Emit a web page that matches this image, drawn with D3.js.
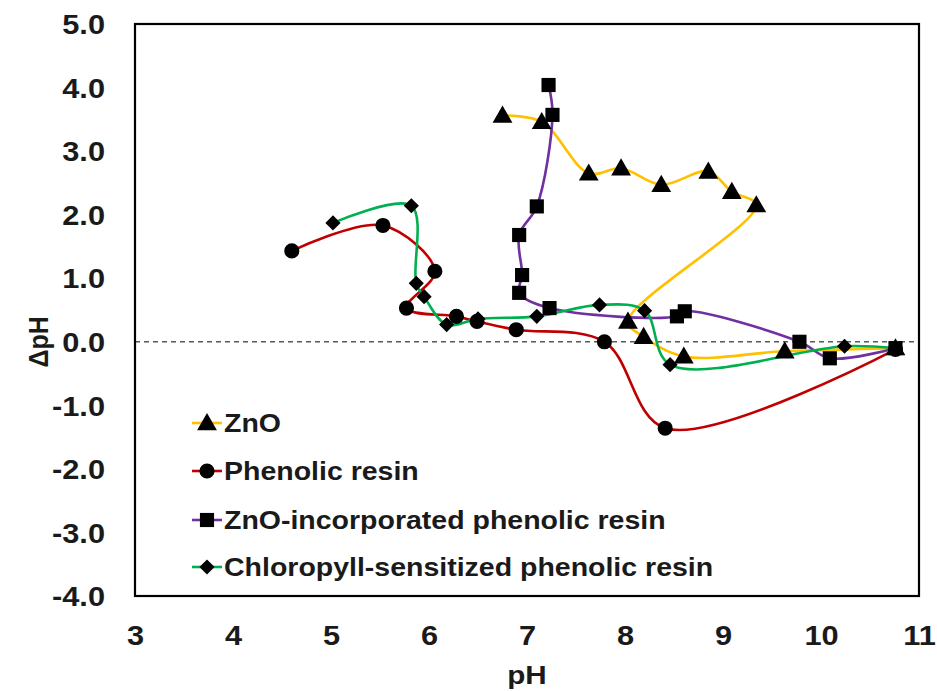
<!DOCTYPE html>
<html>
<head>
<meta charset="utf-8">
<script src="https://cdn.jsdelivr.net/npm/d3@7"></script>
<style>
html,body{margin:0;padding:0;background:#fff;}
svg{display:block;}
text{font-family:"Liberation Sans",Arial,sans-serif;font-weight:bold;fill:#1a1a1a;}
</style>
</head>
<body>
<svg id="chart" width="937" height="691"></svg>
<script>
// ---- data ----
const seriesNames = ["ZnO", "Phenolic resin", "ZnO-incorporated phenolic resin", "Chloropyll-sensitized phenolic resin"];
const seriesColors = ["#FFC000", "#C00000", "#7030A0", "#00B050"];
const seriesSymbols = ["triangle", "circle", "square", "diamond"];

const znoPH  = [6.75, 7.15, 7.63, 7.96, 8.37, 8.85, 9.09, 9.34, 8.03, 8.19, 8.60, 9.63, 10.76];
const znoDPH = [3.56, 3.46, 2.65, 2.73, 2.47, 2.68, 2.36, 2.15, 0.32, 0.08, -0.23, -0.15, -0.10];

const phenolPH  = [4.60, 5.53, 6.06, 5.77, 6.28, 6.49, 6.89, 7.79, 8.41, 10.76];
const phenolDPH = [1.43, 1.83, 1.11, 0.53, 0.40, 0.32, 0.19, 0.00, -1.36, -0.12];

const incorpPH  = [7.22, 7.26, 7.10, 6.92, 6.95, 6.92, 7.23, 8.53, 8.61, 9.78, 10.09, 10.76];
const incorpDPH = [4.04, 3.57, 2.13, 1.68, 1.05, 0.77, 0.53, 0.40, 0.48, 0.00, -0.26, -0.10];

const chloroPH  = [5.02, 5.82, 5.87, 5.95, 6.18, 6.50, 7.10, 7.74, 8.20, 8.46, 10.24, 10.76];
const chloroDPH = [1.87, 2.14, 0.92, 0.71, 0.27, 0.36, 0.40, 0.58, 0.49, -0.36, -0.07, -0.10];

const xTicks = [3, 4, 5, 6, 7, 8, 9, 10, 11];
const yTicks = [5, 4, 3, 2, 1, 0, -1, -2, -3, -4];
const xTitle = "pH";
const yTitle = "\u0394pH";

const seriesX = [znoPH, phenolPH, incorpPH, chloroPH];
const seriesY = [znoDPH, phenolDPH, incorpDPH, chloroDPH];

// ---- layout ----
const svg = d3.select("#chart");
const L = 135, R = 919, T = 24, B = 596;
const x = d3.scaleLinear().domain([3, 11]).range([L, R]);
const y = d3.scaleLinear().domain([-4, 5]).range([B, T]);
const FONT = "Liberation Sans, Arial, sans-serif";
const SX = 1.14; // horizontal stretch of the lettering

// zero dashed line
svg.append("line")
  .attr("x1", x(3)).attr("x2", x(11))
  .attr("y1", y(0)).attr("y2", y(0))
  .attr("stroke", "#595959").attr("stroke-width", 1.6)
  .attr("stroke-dasharray", "5,4");

// frame
svg.append("rect")
  .attr("x", L).attr("y", T).attr("width", R - L).attr("height", B - T)
  .attr("fill", "none").attr("stroke", "#000").attr("stroke-width", 2.2);

// axes (labels only)
const xAxis = d3.axisBottom(x).tickValues(xTicks).tickFormat(d => String(d)).tickSize(0).tickPadding(0);
const gx = svg.append("g").attr("transform", `translate(0,${B})`).call(xAxis);
gx.select(".domain").remove();
gx.selectAll("text").attr("dy", null).attr("y", 49).attr("transform", `scale(${SX},1)`)
  .style("font-size", "27px").style("font-family", FONT).style("font-weight", "bold").attr("fill", "#1a1a1a");

const yfmt = d => (d < 0 ? "-" : "") + Math.abs(d).toFixed(1);
const yAxis = d3.axisLeft(y).tickValues(yTicks).tickFormat(yfmt).tickSize(0).tickPadding(0);
const gy = svg.append("g").attr("transform", `translate(105,0)`).call(yAxis);
gy.select(".domain").remove();
gy.selectAll("text").attr("dy", "0.36em").attr("x", 0).attr("transform", `scale(${SX},1)`)
  .style("font-size", "27px").style("font-family", FONT).style("font-weight", "bold").attr("fill", "#1a1a1a");

svg.append("text").attr("transform", `translate(${(L + R) / 2},684) scale(${SX},1)`).attr("text-anchor", "middle")
  .style("font-size", "26px").text(xTitle);
svg.append("text").attr("transform", `translate(48,${y(0)}) scale(${SX},1) rotate(-90)`).attr("text-anchor", "middle")
  .style("font-size", "25px").text(yTitle);

// symbols
const symType = {triangle: d3.symbolTriangle, circle: d3.symbolCircle, square: d3.symbolSquare, diamond: d3.symbolSquare};
const symSize = {triangle: 170, circle: 180, square: 200, diamond: 115};
function sym(s) { return d3.symbol().type(symType[s]).size(symSize[s])(); }
function symTransform(s, px, py) {
  if (s === "triangle") return `translate(${px},${py + 1.5})`;
  if (s === "diamond") return `translate(${px},${py}) rotate(45)`;
  return `translate(${px},${py})`;
}

const line = d3.line().x(d => x(d[0])).y(d => y(d[1])).curve(d3.curveCatmullRom.alpha(0.5));

seriesNames.forEach((name, i) => {
  const pts = seriesX[i].map((v, j) => [v, seriesY[i][j]]);
  svg.append("path").datum(pts).attr("d", line)
    .attr("fill", "none").attr("stroke", seriesColors[i]).attr("stroke-width", 2.6);
});
seriesNames.forEach((name, i) => {
  const pts = seriesX[i].map((v, j) => [v, seriesY[i][j]]);
  const s = seriesSymbols[i];
  svg.append("g").selectAll("path").data(pts).join("path")
    .attr("d", sym(s))
    .attr("transform", d => symTransform(s, x(d[0]), y(d[1])))
    .attr("fill", "#000");
});

// legend
const legY = [423, 471, 520, 567];
seriesNames.forEach((name, i) => {
  const g = svg.append("g").attr("transform", `translate(0,${legY[i]})`);
  g.append("line").attr("x1", 192).attr("x2", 222).attr("y1", 0).attr("y2", 0)
    .attr("stroke", seriesColors[i]).attr("stroke-width", 2.6);
  const s = seriesSymbols[i];
  g.append("path").attr("d", sym(s)).attr("transform", symTransform(s, 207, 0)).attr("fill", "#000");
  g.append("text").attr("transform", `translate(224,0) scale(${SX},1)`).attr("dy", "0.36em")
    .style("font-size", "25px").text(name);
});
</script>
</body>
</html>
